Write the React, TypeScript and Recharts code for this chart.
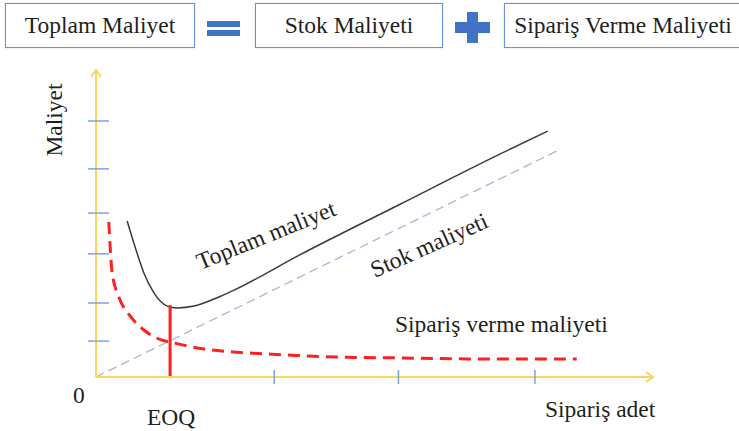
import React from "react";
import { LineChart, Line, XAxis, YAxis, ReferenceDot } from "recharts";

// Quantity (x) and cost (y) readings, both on a 0–100 scale
const totalCostQty = [5.6, 6.8, 8.6, 10.4, 12.8, 14.6, 17.6, 21.2, 24.8, 36.5, 54.5, 72.5, 81.1];
const totalCostVal = [50.8, 43.6, 33.9, 27.4, 23.1, 22.5, 23.1, 25.4, 28.3, 39.7, 56.2, 72.6, 80.1];

const orderCostQty = [2.3, 2.5, 2.9, 4.1, 6.3, 8.6, 11.7, 13.3, 19.4, 25.2, 34.2, 43.2, 55.0, 67.1, 86.3];
const orderCostVal = [50.5, 43.6, 33.9, 26.1, 19.5, 15.3, 12.1, 11.4, 9.1, 8.1, 7.2, 6.5, 6.2, 5.9, 5.9];

const stockCostQty = [0, 82.7];
const stockCostVal = [0, 73.6];

const eoqQty = [13.3, 13.3];
const eoqVal = [0, 23.4];

const xTicks = [32.0, 54.3, 78.8];
const yTicks = [11.7, 24.1, 40.1, 53.4, 67.8, 83.4];

const headerLabels = ["Toplam Maliyet", "Stok Maliyeti", "Sipariş Verme Maliyeti"];

const zip = (xs: number[], ys: number[]) => xs.map((x, i) => ({ x, y: ys[i] }));
const totalData = zip(totalCostQty, totalCostVal);
const orderData = zip(orderCostQty, orderCostVal);
const stockData = zip(stockCostQty, stockCostVal);
const eoqData = zip(eoqQty, eoqVal);

const SERIF = '"Liberation Serif", "Times New Roman", serif';
const AXIS = "#FFD45E";
const TICK = "#7FA2DB";
const TEXT = "#1f1f1f";

const XTick = (p: any) => (
  <line x1={p.x} x2={p.x} y1={p.y - 7} y2={p.y + 7} stroke={TICK} strokeWidth={1.5} />
);
const YTick = (p: any) => (
  <line x1={p.x - 8} x2={p.x + 13} y1={p.y} y2={p.y} stroke={TICK} strokeWidth={1.5} />
);

const ArrowRight = (p: any) => (
  <polyline
    points={`${p.cx - 7},${p.cy - 5} ${p.cx},${p.cy} ${p.cx - 7},${p.cy + 5}`}
    fill="none"
    stroke={AXIS}
    strokeWidth={2}
  />
);
const ArrowUp = (p: any) => (
  <polyline
    points={`${p.cx - 5},${p.cy + 7} ${p.cx},${p.cy} ${p.cx + 5},${p.cy + 7}`}
    fill="none"
    stroke={AXIS}
    strokeWidth={2}
  />
);

const boxStyle = (left: number, width: number): React.CSSProperties => ({
  position: "absolute",
  left,
  top: 3,
  width,
  height: 45,
  boxSizing: "border-box",
  border: "1.5px solid #6A94DA",
  background: "#fff",
  display: "flex",
  alignItems: "center",
  justifyContent: "center",
  fontFamily: SERIF,
  fontSize: 23.5,
  color: TEXT,
  whiteSpace: "nowrap",
  boxShadow: "0 0 1px rgba(70,110,190,0.5)",
});

const bar = (left: number, top: number, width: number, height: number): React.CSSProperties => ({
  position: "absolute",
  left,
  top,
  width,
  height,
  background: "#4472C4",
});

export default function App() {
  return (
    <div style={{ position: "absolute", left: 0, top: 0, width: 739, height: 431, overflow: "hidden", background: "#fff" }}>
      <LineChart
        width={739}
        height={431}
        margin={{ top: 70, right: 86, bottom: 53, left: 95 }}
        style={{ position: "absolute", left: 0, top: 0 }}
      >
        <XAxis
          type="number"
          dataKey="x"
          domain={[0, 100]}
          ticks={xTicks}
          height={1}
          tickSize={0}
          tickMargin={0}
          tickLine={false}
          axisLine={{ stroke: AXIS, strokeWidth: 2 }}
          tick={<XTick />}
          allowDataOverflow
        />
        <YAxis
          type="number"
          dataKey="y"
          domain={[0, 100]}
          ticks={yTicks}
          width={1}
          tickSize={0}
          tickMargin={0}
          tickLine={false}
          axisLine={{ stroke: AXIS, strokeWidth: 2 }}
          tick={<YTick />}
          allowDataOverflow
        />
        <Line
          data={stockData}
          dataKey="y"
          type="linear"
          stroke="#A7B7D6"
          strokeWidth={1.3}
          strokeDasharray="9 5"
          dot={false}
          isAnimationActive={false}
        />
        <Line
          data={orderData}
          dataKey="y"
          type="monotone"
          stroke="#FF1F1F"
          strokeWidth={3}
          strokeDasharray="12 7"
          dot={false}
          isAnimationActive={false}
        />
        <Line
          data={totalData}
          dataKey="y"
          type="monotone"
          stroke="#3a3a3a"
          strokeWidth={1.5}
          dot={false}
          isAnimationActive={false}
        />
        <Line
          data={eoqData}
          dataKey="y"
          type="linear"
          stroke="#FF1F1F"
          strokeWidth={3}
          dot={false}
          isAnimationActive={false}
        />
        <ReferenceDot x={100} y={0} r={0} ifOverflow="visible" shape={<ArrowRight />} />
        <ReferenceDot x={0} y={100} r={0} ifOverflow="visible" shape={<ArrowUp />} />
      </LineChart>

      <svg width={739} height={431} style={{ position: "absolute", left: 0, top: 0, pointerEvents: "none" }}>
        <g fontFamily={SERIF} fontSize={23.5} fill={TEXT}>
          <text x={61.5} y={120} textAnchor="middle" transform="rotate(-90 61.5 120)">Maliyet</text>
          <text x={73} y={403}>0</text>
          <text x={147} y={425}>EOQ</text>
          <text x={545} y={417}>Sipariş adet</text>
          <text x={395} y={332}>Sipariş verme maliyeti</text>
          <text x={266} y={235} textAnchor="middle" dominantBaseline="central" transform="rotate(-22 266 235)">
            Toplam maliyet
          </text>
          <text x={429} y={245} textAnchor="middle" dominantBaseline="central" transform="rotate(-24 429 245)">
            Stok maliyeti
          </text>
        </g>
      </svg>

      <div style={boxStyle(5, 190)}>{headerLabels[0]}</div>
      <div style={bar(207, 21, 33, 6)} />
      <div style={bar(207, 30, 33, 6)} />
      <div style={boxStyle(255, 188)}>{headerLabels[1]}</div>
      <div style={bar(455, 22, 35, 11)} />
      <div style={bar(467, 12, 11, 31)} />
      <div style={boxStyle(504, 238)}>{headerLabels[2]}</div>
    </div>
  );
}
